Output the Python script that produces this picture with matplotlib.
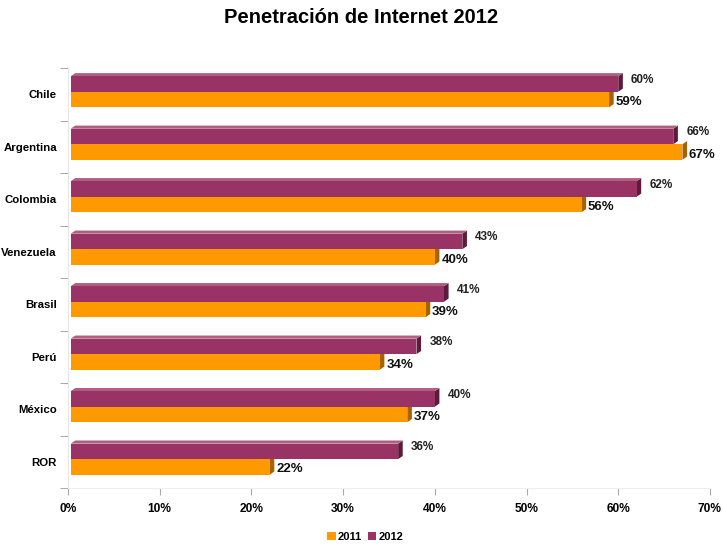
import matplotlib
matplotlib.use('Agg')
import matplotlib.pyplot as plt
from matplotlib.patches import Polygon, Patch
import numpy as np

plt.rcParams['font.family'] = ['Liberation Sans', 'DejaVu Sans']

# Datos
paises = ['Chile', 'Argentina', 'Colombia', 'Venezuela', 'Brasil', 'Perú', 'México', 'ROR']
pen_2012 = [60, 66, 62, 43, 41, 38, 40, 36]
pen_2011 = [59, 67, 56, 40, 39, 34, 37, 22]
xticks = [0, 10, 20, 30, 40, 50, 60, 70]

c2012 = '#993366'
c2012_top = '#b0607f'
c2012_side = '#5e1a3c'
c2011 = '#ff9900'
c2011_side = '#a86200'

fig = plt.figure(figsize=(7.23, 5.46), dpi=100)
ax = fig.add_axes([0.094, 0.106, 0.888, 0.769])

y = np.arange(len(paises))
h = 0.295
dx = 0.5    # profundidad en x (%)
dy = 0.06   # profundidad en y (categorias)
x0 = 0.3    # pequeño hueco junto al eje
y12 = y - 0.2
y11 = y + 0.095


def barra_3d(yc, val, side, top=None):
    y0 = yc - h / 2   # borde superior (eje invertido)
    y1 = yc + h / 2
    ax.add_patch(Polygon([(val, y0), (val + dx, y0 - dy), (val + dx, y1 - dy), (val, y1)],
                         closed=True, facecolor=side, edgecolor='none', zorder=2))
    if top is not None:
        ax.add_patch(Polygon([(x0, y0), (x0 + dx, y0 - dy), (val + dx, y0 - dy), (val, y0)],
                             closed=True, facecolor=top, edgecolor='none', zorder=2))


ax.barh(y12, np.array(pen_2012) - x0, left=x0, height=h, color=c2012, zorder=3)
ax.barh(y11, np.array(pen_2011) - x0, left=x0, height=h, color=c2011, zorder=4)
for i in range(len(paises)):
    barra_3d(y12[i], pen_2012[i], c2012_side, top=c2012_top)
    barra_3d(y11[i], pen_2011[i], c2011_side)
    ax.text(pen_2012[i] + dx + 0.9, y12[i] - 0.08, f'{pen_2012[i]}%',
            fontsize=8.5, fontweight='bold', va='center', ha='left', color='#222222')
    ax.text(pen_2011[i] + dx + 0.2, y11[i] + 0.05, f'{pen_2011[i]}%',
            fontsize=9.5, fontweight='bold', va='center', ha='left', color='#111111')

ax.set_xlim(0, 70)
ax.set_ylim(len(paises) - 0.5, -0.5)
ax.set_xticks(xticks)
ax.set_xticklabels([f'{t}%' for t in xticks], fontsize=8.6, fontweight='bold')
ax.set_yticks(y)
ax.set_yticklabels(paises, fontsize=8.2, fontweight='bold')
ax.tick_params(axis='y', length=0, pad=8)
ax.tick_params(axis='x', length=5, color='#aaaaaa', direction='out', pad=6)
# marcas entre categorias
ax.set_yticks(np.arange(-0.5, len(paises)), minor=True)
ax.tick_params(axis='y', which='minor', length=6, color='#999999', pad=8)

for s in ['top', 'right']:
    ax.spines[s].set_visible(False)
ax.spines['left'].set_color('#e6e6e6')
ax.spines['bottom'].set_color('#eeeeee')

fig.text(0.5, 0.968, 'Penetración de Internet 2012', ha='center', va='center',
         fontsize=14.5, fontweight='bold')

handles = [Patch(facecolor=c2011, label='2011'), Patch(facecolor=c2012, label='2012')]
fig.legend(handles=handles, loc='center', bbox_to_anchor=(0.505, 0.017), ncol=2,
           frameon=False, prop={'size': 8, 'weight': 'bold'}, handlelength=0.8,
           handleheight=0.8, handletextpad=0.2, columnspacing=0.5)

plt.savefig('out.png', dpi=100)
